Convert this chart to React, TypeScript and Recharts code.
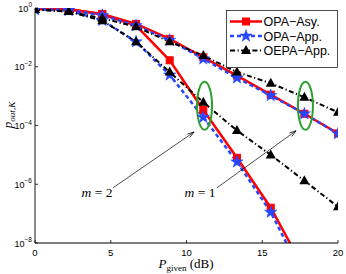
import React from 'react';
import {
  LineChart, Line, XAxis, YAxis, Legend, ReferenceDot, ReferenceLine, Label,
} from 'recharts';

// x positions (dB) of the markers
const pGiven = [0, 2.22, 4.44, 6.67, 8.89, 11.11, 13.33, 15.56, 17.78, 20];

// values read as log10(p_out,K)
const opaAsyM1 = [-0.03, -0.04, -0.2, -0.54, -1.05, -1.68, -2.3, -2.95, -3.6, -4.27];
const opaAppM1 = [-0.05, -0.07, -0.25, -0.6, -1.1, -1.73, -2.38, -2.98, -3.6, -4.28];
const oepaAppM1 = [-0.05, -0.12, -0.35, -0.64, -1.15, -1.62, -2.18, -2.56, -3.04, -3.55];

const opaAsyM2 = [-0.03, -0.04, -0.22, -0.6, -1.78, -3.47, -5.1, -6.8, -8.9, -11];
const opaAppM2 = [-0.05, -0.08, -0.42, -1.15, -2.28, -3.72, -5.24, -6.95, -9.2, -11.3];
const oepaAppM2 = [-0.05, -0.12, -0.43, -1.15, -2.18, -3.21, -4.17, -5.0, -5.88, -6.77];

const xTicks = [0, 5, 10, 15, 20];
const yTicks = [1, 1e-2, 1e-4, 1e-6, 1e-8];

const legendLabels = ['OPA\u2212Asy.', 'OPA\u2212App.', 'OEPA\u2212App.'];

const data = pGiven.map((x, i) => ({
  x,
  asy1: 10 ** opaAsyM1[i],
  app1: 10 ** opaAppM1[i],
  oepa1: 10 ** oepaAppM1[i],
  asy2: 10 ** opaAsyM2[i],
  app2: 10 ** opaAppM2[i],
  oepa2: 10 ** oepaAppM2[i],
}));

const RED = '#ff0000';
const BLUE = '#2747ff';
const BLACK = '#000000';
const GREEN = '#2ca02c';
const SANS = '"Liberation Sans", Arial, Helvetica, sans-serif';
const SERIF = '"Liberation Serif", "Times New Roman", serif';

const starPath = (cx: number, cy: number, R: number, r: number) => {
  let d = '';
  for (let k = 0; k < 10; k++) {
    const a = -Math.PI / 2 + (k * Math.PI) / 5;
    const rad = k % 2 === 0 ? R : r;
    d += (k === 0 ? 'M' : 'L') + (cx + rad * Math.cos(a)).toFixed(2) + ',' + (cy + rad * Math.sin(a)).toFixed(2);
  }
  return d + 'Z';
};

const Square = (cx: number, cy: number, key?: any) => (
  <rect key={key} x={cx - 3.5} y={cy - 3.5} width={7} height={7} fill={RED} stroke={RED} />
);
const Star = (cx: number, cy: number, key?: any) => (
  <path key={key} d={starPath(cx, cy, 6.5, 2.6)} fill={BLUE} stroke={BLUE} strokeWidth={0.5} />
);
const Tri = (cx: number, cy: number, key?: any) => (
  <path key={key} d={`M${cx},${cy - 5.5}L${cx + 5},${cy + 3.5}L${cx - 5},${cy + 3.5}Z`} fill={BLACK} />
);

const dotOf = (fn: typeof Square) => (p: any) => {
  if (p.cx == null || p.cy == null || isNaN(p.cy)) return <g key={p.index} />;
  return fn(p.cx, p.cy, p.index);
};

const expLabel = (v: number) => {
  const e = Math.round(Math.log10(v));
  return e < 0 ? '\u2212' + Math.abs(e) : String(e);
};

const BottomTick = (p: any) => (
  <g>
    <line x1={p.x} y1={p.y} x2={p.x} y2={p.y - 3} stroke="#000" strokeWidth={0.8} />
    <text x={p.x} y={p.y + 12.5} textAnchor="middle" fontSize={9.5} fontFamily={SANS} fill="#000">
      {p.payload.value}
    </text>
  </g>
);
const TopTick = (p: any) => (
  <line x1={p.x} y1={p.y} x2={p.x} y2={p.y + 3} stroke="#000" strokeWidth={0.8} />
);
const LeftTick = (p: any) => (
  <g>
    <line x1={p.x} y1={p.y} x2={p.x + 3} y2={p.y} stroke="#000" strokeWidth={0.8} />
    <text x={p.x - 3} y={p.y + 3.5} textAnchor="end" fontSize={9} fontFamily={SANS} fill="#000">
      <tspan>10</tspan>
      <tspan dy={-4.5} fontSize={6.5}>{expLabel(p.payload.value)}</tspan>
    </text>
  </g>
);
const RightTick = (p: any) => (
  <line x1={p.x} y1={p.y} x2={p.x - 3} y2={p.y} stroke="#000" strokeWidth={0.8} />
);

const Ellipse = (p: any) => (
  <ellipse cx={p.cx} cy={p.cy} rx={7.5} ry={24} fill="none" stroke={GREEN} strokeWidth={2} />
);

const Arrow = (p: any) => {
  const { x1, y1, x2, y2 } = p;
  const a = Math.atan2(y2 - y1, x2 - x1);
  const len = 7;
  const h1 = [x2 - len * Math.cos(a - 0.3), y2 - len * Math.sin(a - 0.3)];
  const h2 = [x2 - len * Math.cos(a + 0.3), y2 - len * Math.sin(a + 0.3)];
  return (
    <g>
      <line x1={x1} y1={y1} x2={x2} y2={y2} stroke="#000" strokeWidth={0.7} />
      <path d={`M${h1[0]},${h1[1]}L${x2},${y2}L${h2[0]},${h2[1]}`} fill="none" stroke="#000" strokeWidth={0.8} />
    </g>
  );
};

const mLabel = (n: string) => (p: any) => (
  <text x={p.cx} y={p.cy + 4.5} textAnchor="middle" fontSize={13.5} fontFamily={SERIF} fill="#000">
    <tspan fontStyle="italic">m</tspan>
    <tspan> = {n}</tspan>
  </text>
);

const LegendBox = () => (
  <svg width={112} height={58} style={{ display: 'block' }}>
    <rect x={0.5} y={0.5} width={111} height={57} fill="#fff" stroke="#222" strokeWidth={0.8} />
    {legendLabels.map((label, i) => {
      const y = 11.5 + i * 14.5;
      const style =
        i === 0 ? { stroke: RED, dash: undefined, w: 2.5 }
        : i === 1 ? { stroke: BLUE, dash: '4 3', w: 2.5 }
        : { stroke: BLACK, dash: '5 2.5 1.2 2.5', w: 2 };
      const marker = i === 0 ? Square(20, y) : i === 1 ? Star(20, y) : Tri(20, y);
      return (
        <g key={label}>
          <line x1={4} y1={y} x2={36} y2={y} stroke={style.stroke} strokeWidth={style.w} strokeDasharray={style.dash} />
          {marker}
          <text x={37.5} y={y + 4.5} fontSize={12.5} fontFamily={SANS} fill="#000">{label}</text>
        </g>
      );
    })}
  </svg>
);

const XTitle = () => (
  <text x={186} y={268} textAnchor="middle" fontFamily={SERIF} fontSize={13} fill="#000">
    <tspan fontStyle="italic">P</tspan>
    <tspan fontSize={9} dy={2.5}>given</tspan>
    <tspan dy={-2.5}> (dB)</tspan>
  </text>
);

const YTitle = () => (
  <text x={0} y={0} transform="translate(12,115) rotate(-90)" textAnchor="middle" fontFamily={SERIF} fontSize={13} fontStyle="italic" fill="#000">
    <tspan>p</tspan>
    <tspan fontSize={9} dy={2.5}>out,K</tspan>
  </text>
);

export default function App() {
  return (
    <div style={{ position: 'absolute', left: 0, top: 0, background: '#fff' }}>
      <LineChart width={346} height={274} data={data} margin={{ top: 8, right: 8, bottom: 0, left: 0 }}>
        <XAxis
          dataKey="x" type="number" domain={[0, 20]} ticks={xTicks} allowDataOverflow interval={0}
          height={31} tickSize={0} tickMargin={0} tick={<BottomTick />}
          axisLine={{ stroke: '#000', strokeWidth: 1 }}
        >
          <Label content={<XTitle />} />
        </XAxis>
        <XAxis
          xAxisId="top" orientation="top" type="number" domain={[0, 20]} ticks={xTicks} allowDataOverflow interval={0}
          height={0} tickSize={0} tickMargin={0} tick={<TopTick />}
          axisLine={{ stroke: '#000', strokeWidth: 1 }}
        />
        <YAxis
          scale="log" type="number" domain={[1e-8, 1]} ticks={yTicks} allowDataOverflow interval={0}
          width={35} tickSize={0} tickMargin={0} tick={<LeftTick />}
          axisLine={{ stroke: '#8c8c8c', strokeWidth: 2 }}
        >
          <Label content={<YTitle />} />
        </YAxis>
        <YAxis
          yAxisId="right" orientation="right" scale="log" type="number" domain={[1e-8, 1]} ticks={yTicks}
          allowDataOverflow interval={0} width={0} tickSize={0} tickMargin={0} tick={<RightTick />}
          axisLine={{ stroke: '#000', strokeWidth: 1 }}
        />

        <Line dataKey="asy1" stroke={RED} strokeWidth={2.5} dot={dotOf(Square)} isAnimationActive={false} />
        <Line dataKey="asy2" stroke={RED} strokeWidth={2.5} dot={dotOf(Square)} isAnimationActive={false} />
        <Line dataKey="app1" stroke={BLUE} strokeWidth={2.5} strokeDasharray="4 3" dot={dotOf(Star)} isAnimationActive={false} />
        <Line dataKey="app2" stroke={BLUE} strokeWidth={2.5} strokeDasharray="4 3" dot={dotOf(Star)} isAnimationActive={false} />
        <Line dataKey="oepa1" stroke={BLACK} strokeWidth={2} strokeDasharray="5 2.5 1.2 2.5" dot={dotOf(Tri)} isAnimationActive={false} />
        <Line dataKey="oepa2" stroke={BLACK} strokeWidth={2} strokeDasharray="5 2.5 1.2 2.5" dot={dotOf(Tri)} isAnimationActive={false} />

        <ReferenceDot x={11.19} y={10 ** -3.33} shape={Ellipse} />
        <ReferenceDot x={17.85} y={10 ** -3.33} shape={Ellipse} />
        <ReferenceLine segment={[{ x: 5.15, y: 10 ** -6.12 }, { x: 10.5, y: 10 ** -4.22 }]} shape={Arrow} />
        <ReferenceLine segment={[{ x: 12.01, y: 10 ** -6.12 }, { x: 17.23, y: 10 ** -4.18 }]} shape={Arrow} />
        <ReferenceDot x={4.09} y={10 ** -6.29} shape={mLabel('2')} />
        <ReferenceDot x={10.89} y={10 ** -6.29} shape={mLabel('1')} />

        <Legend
          layout="horizontal" verticalAlign="middle" align="center"
          content={<LegendBox />}
          wrapperStyle={{ position: 'absolute', left: 226, top: 10, width: 112, height: 58 }}
        />
      </LineChart>
    </div>
  );
}
